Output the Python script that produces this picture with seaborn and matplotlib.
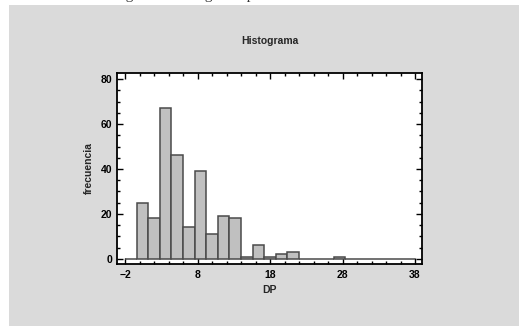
import numpy as np
import pandas as pd
import matplotlib
matplotlib.use("Agg")
import matplotlib.pyplot as plt
from matplotlib.patches import Rectangle
from matplotlib.ticker import MultipleLocator
import seaborn as sns

# Datos del histograma
bordes = [round(-2 + 1.6 * i, 2) for i in range(26)]   # 25 clases de ancho 1.6
frecuencia = [0, 25, 18, 67, 46, 14, 39, 11, 19, 18, 1, 6, 1, 2, 3,
              0, 0, 0, 1, 0, 0, 0, 0, 0, 0]
ticks_x = [-2, 8, 18, 28, 38]
ticks_y = [0, 20, 40, 60, 80]

# tabla con el centro de cada clase y su peso
centros = [(a + b) / 2 for a, b in zip(bordes[:-1], bordes[1:])]
df = pd.DataFrame({'DP': centros, 'n': frecuencia})

sns.set_style("ticks")
plt.rcParams['font.family'] = ['Liberation Sans', 'DejaVu Sans']
plt.rcParams['font.weight'] = 'bold'

fig = plt.figure(figsize=(5.19, 3.26), dpi=100, facecolor='white')

# fondo gris del grafico
fig.patches.append(Rectangle((9 / 519, 0), 1, 321 / 326, transform=fig.transFigure,
                             facecolor='#dadada', edgecolor='none', zorder=-10))
# resto del pie de figura del documento, cortado arriba
fig.text(0.46, 1.0 + 1 / 326, "Figura 3. Histograma para la variable DP",
         family='Liberation Serif', fontsize=11, fontweight='normal',
         ha='center', va='baseline', color='#333333')

ax = fig.add_axes([116.7 / 519, 62.5 / 326, 305.6 / 519, 190.2 / 326])
ax.set_facecolor('white')

sns.histplot(data=df, x='DP', weights='n', bins=bordes, ax=ax,
             color='#c0c0c0', edgecolor='#4a4a4a', linewidth=1.1, alpha=1)

ax.set_xlim(-3.15, 39)
ax.set_ylim(-2.1, 82.6)
ax.set_xticks(ticks_x)
ax.set_yticks(ticks_y)
ax.xaxis.set_minor_locator(MultipleLocator(2))
ax.yaxis.set_minor_locator(MultipleLocator(5))
ax.tick_params(which='both', direction='in', top=True, right=True,
               labelsize=7.5, width=1, colors='black')
ax.tick_params(axis='x', pad=4.5)
ax.tick_params(axis='y', pad=3)
ax.tick_params(which='major', length=4)
ax.tick_params(which='minor', length=2.5)
for lab in ax.get_xticklabels() + ax.get_yticklabels():
    lab.set_fontweight('bold')
for s in ax.spines.values():
    s.set_visible(True)
    s.set_linewidth(1.3)
    s.set_color('black')

ax.set_title("Histograma", fontsize=7.5, fontweight='bold', pad=21)
ax.set_xlabel("DP", fontsize=7.5, fontweight='bold', labelpad=4)
ax.set_ylabel("frecuencia", fontsize=7.5, fontweight='bold', labelpad=5)

fig.savefig("out.png", dpi=100, facecolor=fig.get_facecolor())
